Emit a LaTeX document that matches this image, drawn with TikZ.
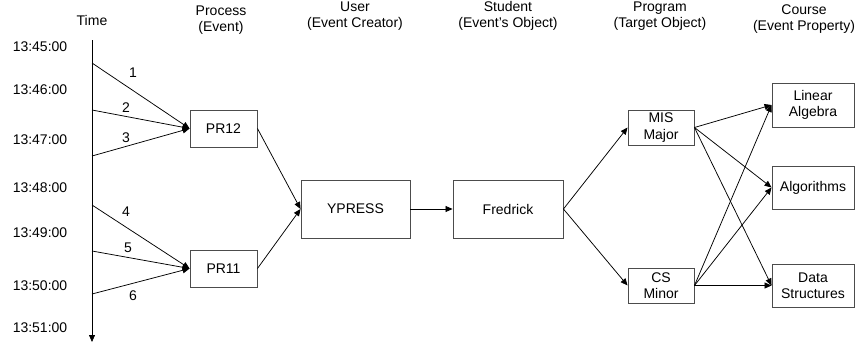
\documentclass[tikz,border=0pt]{standalone}
\usepackage{fontspec}
\setmainfont{Liberation Sans}
\usetikzlibrary{arrows.meta}
\tikzset{
  lbl/.style={font=\fontsize{14}{16.5}\selectfont, inner sep=0pt, align=center},
  entity/.style={lbl, draw=black!70, line width=0.9pt, fill=white},
  flow/.style={line width=0.75pt, -{Triangle[length=7pt,width=6pt]}}
}
\begin{document}
\begin{tikzpicture}[x=1pt,y=-1pt]
\useasboundingbox (0,0) rectangle (861,343);

% column headers
\node[lbl] (hTime)    at (92,20)    {Time};
\node[lbl] (hProc)    at (221,20)   {Process\\(Event)};
\node[lbl] (hUser)    at (355,16)   {User\\(Event Creator)};
\node[lbl] (hStudent) at (508,16)   {Student\\(Event’s Object)};
\node[lbl] (hProg)    at (660,16)   {Program\\(Target Object)};
\node[lbl] (hCourse)  at (804,19)   {Course\\(Event Property)};

% time scale
\node[lbl] (t1) at (40,47)  {13:45:00};
\node[lbl] (t2) at (40,90)  {13:46:00};
\node[lbl] (t3) at (40,140) {13:47:00};
\node[lbl] (t4) at (40,188) {13:48:00};
\node[lbl] (t5) at (40,233) {13:49:00};
\node[lbl] (t6) at (40,286) {13:50:00};
\node[lbl] (t7) at (40,328) {13:51:00};

\coordinate (axisTop) at (92,40);
\coordinate (axisEnd) at (92,342);
\draw[flow] (axisTop) -- (axisEnd);

% event instants on the time axis
\coordinate (e1) at (92,63);
\coordinate (e2) at (92,110);
\coordinate (e3) at (92,156);
\coordinate (e4) at (92,205);
\coordinate (e5) at (92,251);
\coordinate (e6) at (92,294);

% entities
\node[entity, minimum width=67pt, minimum height=37pt] (pr12) at (223.5,128.5) {PR12};
\node[entity, minimum width=67pt, minimum height=37pt] (pr11) at (223.5,268.5) {PR11};
\node[entity, minimum width=109pt, minimum height=58pt] (ypress) at (355.5,209) {YPRESS};
\node[entity, minimum width=110pt, minimum height=58pt] (fred) at (508,209) {Fredrick};
\node[entity, minimum width=66pt, minimum height=35pt] (mis) at (661,127.5) {MIS\\Major};
\node[entity, minimum width=66pt, minimum height=35pt] (cs) at (661,285.5) {CS\\Minor};
\node[entity, minimum width=82pt, minimum height=44pt] (linalg) at (813,105) {Linear\\Algebra};
\node[entity, minimum width=82pt, minimum height=43pt] (algo) at (813,187.5) {Algorithms};
\node[entity, minimum width=82pt, minimum height=43pt] (ds) at (813,285.5) {Data\\Structures};

% events feeding the processes
\draw[flow] (e1) -- (pr12.west);
\draw[flow] (e2) -- (pr12.west);
\draw[flow] (e3) -- (pr12.west);
\draw[flow] (e4) -- (pr11.west);
\draw[flow] (e5) -- (pr11.west);
\draw[flow] (e6) -- (pr11.west);

\node[lbl] (n1) at (133,73)  {1};
\node[lbl] (n2) at (126,108) {2};
\node[lbl] (n3) at (126,138) {3};
\node[lbl] (n4) at (126,212) {4};
\node[lbl] (n5) at (128,248) {5};
\node[lbl] (n6) at (133,296) {6};

% chain from processes to courses
\draw[flow] (pr12.east) -- (ypress.west);
\draw[flow] (pr11.east) -- (ypress.west);
\draw[flow] (ypress.east) -- (fred.west);
\draw[flow] (fred.east) -- (mis.west);
\draw[flow] (fred.east) -- (cs.west);

\draw[flow] (mis.east) -- (linalg.west);
\draw[flow] (mis.east) -- (algo.west);
\draw[flow] (mis.east) -- (ds.west);
\draw[flow] (cs.east) -- (linalg.west);
\draw[flow] (cs.east) -- (algo.west);
\draw[flow] (cs.east) -- (ds.west);
\end{tikzpicture}
\end{document}
